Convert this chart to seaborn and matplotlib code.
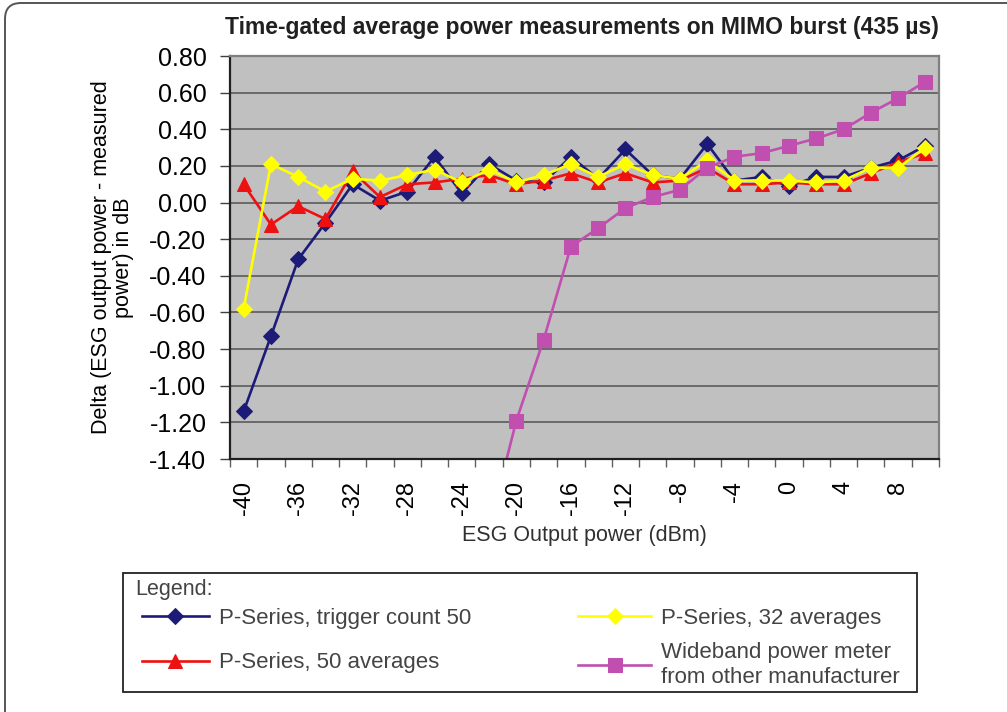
import numpy as np
import pandas as pd
import seaborn as sns
import matplotlib.pyplot as plt
from matplotlib.patches import FancyBboxPatch, Rectangle
from matplotlib.transforms import IdentityTransform
from matplotlib.ticker import FixedLocator, FormatStrFormatter

# ESG output power (dBm), one point every 2 dB
power_dbm = list(range(-40, 11, 2))

trigger50 = [-1.14, -0.73, -0.31, -0.11, 0.10, 0.01, 0.06, 0.25, 0.05, 0.21, 0.12, 0.11, 0.25,
             0.13, 0.29, 0.15, 0.13, 0.32, 0.12, 0.14, 0.09, 0.14, 0.14, 0.19, 0.23, 0.31]
avg50 = [0.10, -0.12, -0.02, -0.09, 0.17, 0.03, 0.10, 0.11, 0.13, 0.15, 0.10, 0.12, 0.16,
         0.11, 0.16, 0.11, 0.12, 0.19, 0.10, 0.10, 0.11, 0.10, 0.10, 0.16, 0.22, 0.27]
avg32 = [-0.58, 0.21, 0.14, 0.06, 0.13, 0.12, 0.15, 0.18, 0.11, 0.18, 0.11, 0.15, 0.21,
         0.14, 0.21, 0.15, 0.13, 0.23, 0.12, 0.12, 0.12, 0.11, 0.12, 0.19, 0.19, 0.30]
wideband = [np.nan] * 9 + [-1.78, -1.19, -0.75, -0.24, -0.14, -0.03, 0.03, 0.07, 0.19,
                           0.25, 0.27, 0.31, 0.35, 0.40, 0.49, 0.57, 0.66]

labels = ["P-Series, trigger count 50", "P-Series, 50 averages",
          "P-Series, 32 averages", "Wideband power meter\nfrom other manufacturer"]
colors = ["#1c1c78", "#ee1111", "#ffff00", "#c04fb0"]
markers = ["D", "^", "D", "s"]
msizes = [8, 10.5, 8, 9.5]

x_ticks = list(range(-40, 9, 4))
y_ticks = [0.80, 0.60, 0.40, 0.20, 0.00, -0.20, -0.40, -0.60, -0.80, -1.00, -1.20, -1.40]

arial = ["Liberation Sans", "DejaVu Sans"]

fig = plt.figure(figsize=(10.07, 7.12), dpi=100)
ax = fig.add_axes([0.2284, 0.3553, 0.7041, 0.566])
ax.set_facecolor("#c0c0c0")

for vals, lab, col, mk, ms in zip([trigger50, avg50, avg32, wideband], labels, colors, markers, msizes):
    df = pd.DataFrame({"power": power_dbm, "delta": vals}).dropna()
    sns.lineplot(data=df, x="power", y="delta", ax=ax, color=col, marker=mk, markersize=ms,
                 markeredgecolor=col, linewidth=1.9, label=lab, legend=False)

ax.set_xlim(-41, 11)
ax.set_ylim(-1.40, 0.80)

ax.xaxis.set_major_locator(FixedLocator(x_ticks))
ax.xaxis.set_minor_locator(FixedLocator(list(range(-41, 12, 2))))
ax.set_xticklabels([str(v) for v in x_ticks], rotation=90, fontsize=17, family=arial)
ax.tick_params(axis="x", which="major", length=0, pad=16)
ax.tick_params(axis="x", which="minor", length=6, width=1, color="#606060", direction="out")

ax.yaxis.set_major_locator(FixedLocator(y_ticks))
ax.yaxis.set_major_formatter(FormatStrFormatter("%.2f"))
for t in ax.get_yticklabels():
    t.set_fontsize(18)
    t.set_family(arial)
ax.tick_params(axis="y", length=7, width=1, color="#404040", pad=10)

ax.grid(axis="y", color="#5a5a5a", linewidth=1.2)
ax.set_axisbelow(True)

for side in ["left", "bottom"]:
    ax.spines[side].set_color("#202020")
    ax.spines[side].set_linewidth(1.6)
for side in ["top", "right"]:
    ax.spines[side].set_color("#808080")
    ax.spines[side].set_linewidth(1.6)

ax.set_xlabel("ESG Output power (dBm)", fontsize=15.5, family=arial, color="#303030")
ax.xaxis.set_label_coords(0.5, -0.163)
ax.set_ylabel("Delta (ESG output power - measured\npower) in dB", fontsize=15.5, family=arial,
              linespacing=1.1)
ax.yaxis.set_label_coords(-0.135, 0.5)

fig.text(0.578, 0.961, "Time-gated average power measurements on MIMO burst (435 \u00b5s)",
         ha="center", va="center", fontsize=16.5, fontweight="bold", family=arial, color="#202020")

# legend: box, title and two columns
fig.patches.append(Rectangle((123, 20), 794, 119, transform=IdentityTransform(), fill=False,
                             edgecolor="#222222", linewidth=1.3))
fig.text(135 / 1007, 1 - 590 / 712, "Legend:", ha="left", va="center", fontsize=15.5,
         family=arial, color="#444444")

handles, leg_labels = ax.get_legend_handles_labels()
leg_style = dict(frameon=False, prop={"family": arial, "size": 16}, borderpad=0,
                 borderaxespad=0, handletextpad=0.45, labelcolor="#444444", loc="upper left")
leg1 = fig.legend(handles[:2], leg_labels[:2], bbox_to_anchor=(142 / 1007, 1 - 608 / 712),
                  handlelength=3.0, labelspacing=1.05, **leg_style)
leg2 = fig.legend(handles[2:], leg_labels[2:], bbox_to_anchor=(578 / 1007, 1 - 608 / 712),
                  handlelength=3.3, labelspacing=0.6, **leg_style)

# outer rounded frame (only top and left edges visible)
frame = FancyBboxPatch((5, -40), 1100, 712 - 3 + 40, boxstyle="round,pad=0,rounding_size=16",
                       transform=IdentityTransform(), fill=False, edgecolor="#555555", linewidth=1.4)
fig.patches.append(frame)

fig.savefig("out.png", dpi=100)
